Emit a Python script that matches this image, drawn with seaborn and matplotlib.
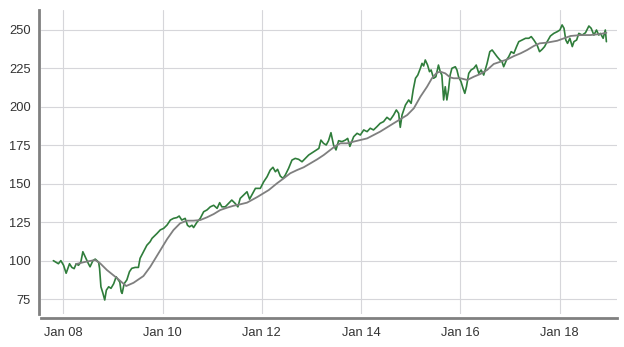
import matplotlib
matplotlib.use("Agg")
import matplotlib.pyplot as plt
import matplotlib.dates as mdates
import seaborn as sns
import pandas as pd

# ---- data ----
price_dates = [
    "2007-10-20", "2007-11-26", "2007-12-14", "2008-01-03", "2008-01-22", "2008-02-16",
    "2008-03-04", "2008-03-21", "2008-04-05", "2008-04-22", "2008-05-09", "2008-05-24",
    "2008-06-10", "2008-07-04", "2008-07-16", "2008-08-06", "2008-08-23", "2008-09-17",
    "2008-09-24", "2008-10-04", "2008-10-19", "2008-11-01", "2008-11-13", "2008-11-30",
    "2008-12-17", "2009-01-06", "2009-01-24", "2009-02-08", "2009-02-20", "2009-03-02",
    "2009-03-09", "2009-03-24", "2009-04-13", "2009-05-02", "2009-05-19", "2009-06-13",
    "2009-07-07", "2009-07-19", "2009-08-13", "2009-09-07", "2009-10-01", "2009-10-15",
    "2009-11-21", "2009-12-15", "2010-01-09", "2010-02-03", "2010-02-27", "2010-03-22",
    "2010-04-16", "2010-05-03", "2010-05-22", "2010-06-16", "2010-07-03", "2010-07-18",
    "2010-08-05", "2010-08-17", "2010-09-11", "2010-10-05", "2010-10-30", "2010-11-24",
    "2010-12-18", "2011-01-12", "2011-02-06", "2011-02-25", "2011-03-13", "2011-04-07",
    "2011-05-01", "2011-05-25", "2011-06-19", "2011-07-09", "2011-07-26", "2011-08-19",
    "2011-09-14", "2011-10-03", "2011-11-15", "2011-12-21", "2012-01-15", "2012-02-09",
    "2012-03-03", "2012-03-23", "2012-04-10", "2012-04-26", "2012-05-16", "2012-06-05",
    "2012-06-22", "2012-07-16", "2012-08-10", "2012-09-03", "2012-09-28", "2012-10-23",
    "2012-11-17", "2012-12-11", "2013-01-06", "2013-01-30", "2013-02-24", "2013-03-11",
    "2013-03-30", "2013-04-19", "2013-05-06", "2013-05-24", "2013-06-12", "2013-06-30",
    "2013-07-19", "2013-08-13", "2013-09-07", "2013-09-24", "2013-10-10", "2013-11-07",
    "2013-12-02", "2013-12-26", "2014-01-20", "2014-02-14", "2014-03-09", "2014-04-02",
    "2014-04-27", "2014-05-21", "2014-06-15", "2014-07-10", "2014-08-03", "2014-08-28",
    "2014-09-17", "2014-10-04", "2014-10-16", "2014-10-29", "2014-11-23", "2014-12-17",
    "2015-01-04", "2015-01-19", "2015-02-05", "2015-02-22", "2015-03-13", "2015-03-25",
    "2015-04-06", "2015-04-18", "2015-05-05", "2015-05-19", "2015-05-31", "2015-06-18",
    "2015-07-05", "2015-07-24", "2015-08-06", "2015-08-18", "2015-08-31", "2015-09-12",
    "2015-09-24", "2015-10-06", "2015-10-18", "2015-10-31", "2015-11-25", "2015-12-07",
    "2015-12-19", "2016-01-06", "2016-01-21", "2016-02-03", "2016-02-15", "2016-03-03",
    "2016-03-20", "2016-04-09", "2016-04-27", "2016-05-16", "2016-06-02", "2016-06-21",
    "2016-07-16", "2016-08-05", "2016-08-22", "2016-09-09", "2016-09-28", "2016-10-18",
    "2016-11-03", "2016-11-15", "2016-12-06", "2016-12-22", "2017-01-09", "2017-01-29",
    "2017-02-18", "2017-03-06", "2017-03-31", "2017-04-25", "2017-05-19", "2017-06-06",
    "2017-06-25", "2017-07-19", "2017-08-06", "2017-08-25", "2017-09-12", "2017-10-01",
    "2017-10-25", "2017-11-19", "2017-12-14", "2018-01-03", "2018-01-19", "2018-02-02",
    "2018-02-15", "2018-02-28", "2018-03-17", "2018-04-04", "2018-04-16", "2018-05-06",
    "2018-05-22", "2018-06-16", "2018-07-10", "2018-08-04", "2018-08-21", "2018-09-10",
    "2018-09-29", "2018-10-16", "2018-10-28", "2018-11-17", "2018-12-03", "2018-12-11",
]
price_values = [
    100.0, 98.0, 100.0, 97.0, 91.8, 98.0,
    95.6, 94.8, 98.0, 97.0, 99.0, 105.8,
    102.6, 98.0, 96.0, 100.0, 101.0, 99.0,
    95.0, 83.0, 78.7, 74.4, 80.8, 83.0,
    82.0, 85.0, 89.5, 87.5, 86.0, 79.8,
    78.7, 85.0, 87.5, 92.8, 95.0, 95.6,
    95.6, 101.5, 105.8, 110.0, 112.3, 114.5,
    117.7, 120.0, 121.0, 123.2, 126.4, 127.5,
    128.0, 129.0, 126.4, 127.5, 123.0, 122.0,
    123.0, 121.5, 125.0, 127.5, 131.8, 133.0,
    135.0, 136.0, 134.0, 137.7, 135.0, 135.0,
    137.2, 139.4, 137.2, 135.0, 140.5, 142.6,
    144.8, 140.0, 147.0, 147.0, 151.3, 154.6,
    158.9, 160.7, 157.8, 159.4, 155.0, 153.5,
    155.7, 160.0, 165.4, 166.5, 165.9, 164.3,
    166.5, 168.7, 170.2, 171.5, 173.0, 178.4,
    176.3, 175.2, 178.0, 183.2, 175.2, 172.0,
    178.0, 177.4, 178.4, 179.5, 174.3, 180.6,
    182.8, 181.7, 185.0, 183.9, 186.1, 185.0,
    187.1, 189.3, 190.4, 193.2, 191.5, 194.7,
    198.0, 195.8, 186.7, 194.7, 201.2, 204.5,
    202.3, 211.0, 218.6, 220.7, 225.1, 228.3,
    226.6, 230.5, 227.2, 222.9, 224.0, 218.6,
    219.6, 227.2, 222.9, 220.7, 204.5, 213.1,
    204.5, 211.0, 220.7, 225.1, 226.1, 224.0,
    219.6, 216.4, 212.1, 208.8, 213.1, 221.8,
    224.0, 225.1, 227.2, 221.8, 224.0, 220.7,
    228.3, 235.9, 237.0, 234.8, 232.6, 230.5,
    229.4, 226.1, 230.5, 232.6, 235.9, 234.8,
    239.2, 242.4, 243.5, 244.6, 244.6, 245.7,
    243.5, 240.2, 235.9, 237.4, 239.2, 242.4,
    246.1, 247.8, 248.9, 250.0, 253.3, 251.1,
    243.5, 241.3, 244.6, 239.2, 242.4, 243.5,
    247.8, 246.7, 248.2, 252.6, 251.1, 246.7,
    250.0, 246.7, 247.8, 244.6, 250.0, 242.4,
]

avg_dates = [
    "2008-04-05", "2008-06-10", "2008-08-23", "2008-09-29", "2008-11-17", "2009-02-01",
    "2009-04-08", "2009-06-01", "2009-08-13", "2009-10-02", "2009-12-10", "2010-02-03",
    "2010-03-22", "2010-05-10", "2010-06-28", "2010-08-16", "2010-10-05", "2010-11-24",
    "2011-01-12", "2011-03-01", "2011-04-19", "2011-06-07", "2011-07-25", "2011-09-14",
    "2011-12-01", "2012-02-21", "2012-04-22", "2012-06-10", "2012-07-28", "2012-09-16",
    "2012-11-04", "2012-12-24", "2013-02-12", "2013-04-01", "2013-05-19", "2013-06-25",
    "2013-08-01", "2013-09-19", "2013-11-07", "2014-02-14", "2014-05-21", "2014-08-28",
    "2014-12-06", "2015-01-24", "2015-03-13", "2015-05-01", "2015-06-06", "2015-07-12",
    "2015-08-06", "2015-09-12", "2015-10-18", "2015-11-13", "2016-01-02", "2016-02-21",
    "2016-04-09", "2016-05-28", "2016-07-16", "2016-09-03", "2016-10-24", "2016-12-12",
    "2017-01-31", "2017-03-19", "2017-05-07", "2017-06-25", "2017-08-06", "2017-10-01",
    "2017-12-14", "2018-02-02", "2018-03-22", "2018-06-04", "2018-08-16", "2018-10-28",
    "2018-12-11",
]
avg_values = [
    97.8, 99.2, 100.4, 98.2, 93.9, 88.5,
    83.5, 85.6, 90.0, 96.0, 106.0, 114.0,
    119.9, 124.3, 126.0, 126.0, 126.4, 128.2,
    130.3, 132.9, 134.4, 135.7, 136.6, 137.7,
    141.5, 145.9, 150.3, 153.5, 156.8, 158.9,
    160.7, 163.3, 165.9, 168.7, 172.0, 174.5,
    176.3, 176.3, 177.4, 179.5, 183.9, 189.3,
    194.7, 199.1, 206.6, 213.1, 218.6, 222.2,
    222.9, 221.8, 219.2, 218.6, 218.6, 217.5,
    219.6, 221.4, 224.0, 227.9, 229.4, 230.9,
    233.1, 234.8, 237.0, 239.6, 241.3, 241.8,
    243.0, 244.6, 246.1, 246.7, 246.7, 247.4,
    248.2,
]

y_ticks = [75, 100, 125, 150, 175, 200, 225, 250]

# ---- figure ----
sns.set_theme(style="white")
plt.rcParams["font.family"] = ["Liberation Sans", "DejaVu Sans"]

W, H = 624, 347
fig = plt.figure(figsize=(W / 100, H / 100), dpi=100)
ax = fig.add_axes([41 / W, 1 - 314 / H, (617 - 41) / W, (314 - 10) / H])

price = pd.DataFrame({"date": pd.to_datetime(price_dates), "value": price_values})
avg = pd.DataFrame({"date": pd.to_datetime(avg_dates), "value": avg_values})

sns.lineplot(data=price, x="date", y="value", color="#2f7d3b", linewidth=1.2,
             ax=ax, estimator=None, sort=False)
sns.lineplot(data=avg, x="date", y="value", color="#7f7f7f", linewidth=1.3,
             ax=ax, estimator=None, sort=False)

ax.set_xlim(pd.Timestamp("2007-07-21"), pd.Timestamp("2019-02-27"))
ax.set_ylim(65.3, 263)
ax.set_yticks(y_ticks)
ax.xaxis.set_major_locator(mdates.YearLocator(2))
ax.xaxis.set_major_formatter(mdates.DateFormatter("%b %y"))

ax.grid(True, color="#d6d6da", linewidth=0.8)
ax.set_axisbelow(True)
for s in ["top", "right"]:
    ax.spines[s].set_visible(False)
ax.spines["left"].set_position(("outward", 1.5))
ax.spines["bottom"].set_position(("outward", 3))
for s in ["left", "bottom"]:
    ax.spines[s].set_color("#808080")
    ax.spines[s].set_linewidth(2.0)

ax.tick_params(axis="both", length=3, width=2, color="#808080",
               labelsize=9.3, labelcolor="#333333", pad=3)
ax.set_xlabel("")
ax.set_ylabel("")

fig.savefig("out.png", dpi=100)
